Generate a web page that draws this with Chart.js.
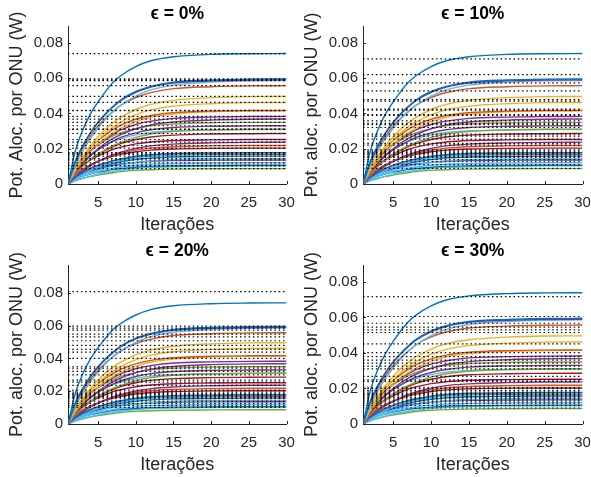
<!DOCTYPE html>
<html>
<head>
<meta charset="utf-8">
<script src="https://cdn.jsdelivr.net/npm/chart.js@4"></script>
<style>
  body { margin: 0; background: #fff; }
  #wrap { position: relative; width: 591px; height: 477px; }
  canvas { position: absolute; }
</style>
</head>
<body>
<div id="wrap">
  <canvas id="c0" width="295" height="238" style="left:0;top:0"></canvas>
  <canvas id="c1" width="296" height="238" style="left:295px;top:0"></canvas>
  <canvas id="c2" width="295" height="239" style="left:0;top:238px"></canvas>
  <canvas id="c3" width="296" height="239" style="left:295px;top:238px"></canvas>
</div>
<script>
const iterations = [1, 2, 3, 4, 5, 6, 7, 8, 10, 12, 15, 20, 25, 30];
const xTicks = [5, 10, 15, 20, 25, 30];
const yTicks = [0, 0.02, 0.04, 0.06, 0.08];

const panelTitles = ["ϵ = 0%", "ϵ = 10%", "ϵ = 20%", "ϵ = 30%"];
const yLabels = ["Pot. Aloc. por ONU (W)", "Pot. aloc. por ONU (W)", "Pot. aloc. por ONU (W)", "Pot. aloc. por ONU (W)"];
const yMax = [0.0895, 0.0895, 0.097, 0.0895];

// MATLAB colours
const B = "#0072BD", O = "#D95319", Y = "#EDB120", P = "#7E2F8E", G = "#77AC30", L = "#4DBEEE", R = "#A2142F";
const curveColors = [B, B, P, L, O, Y, Y, O, Y, P, P, G, P, G, L, R, R, P, O, R, B, L, O, B, L, P, L, B, L, G];

// allocated power per ONU, read at the iterations above
const curves = [
  [0, .0192, .0310, .0399, .0466, .0525, .0576, .0613, .0665, .0698, .0721, .0734, .0738, .0739],
  [0, .0131, .0220, .0292, .0351, .0399, .0440, .0476, .0524, .0553, .0577, .0589, .0594, .0595],
  [0, .0130, .0218, .0289, .0348, .0395, .0437, .0472, .0519, .0549, .0572, .0584, .0589, .0590],
  [0, .0105, .0188, .0258, .0316, .0369, .0410, .0445, .0498, .0533, .0560, .0577, .0584, .0586],
  [0, .0123, .0206, .0273, .0329, .0373, .0412, .0446, .0490, .0518, .0540, .0551, .0556, .0557],
  [0, .0089, .0159, .0218, .0268, .0312, .0347, .0377, .0422, .0451, .0474, .0489, .0495, .0496],
  [0, .0083, .0148, .0203, .0249, .0291, .0323, .0351, .0393, .0420, .0441, .0455, .0461, .0462],
  [0, .0092, .0154, .0204, .0246, .0279, .0309, .0334, .0367, .0388, .0404, .0413, .0416, .0417],
  [0, .0075, .0133, .0183, .0224, .0261, .0291, .0315, .0353, .0378, .0396, .0409, .0414, .0415],
  [0, .0084, .0142, .0188, .0226, .0257, .0283, .0306, .0337, .0356, .0372, .0379, .0382, .0383],
  [0, .0066, .0118, .0162, .0199, .0232, .0258, .0280, .0313, .0335, .0351, .0362, .0367, .0368],
  [0, .0091, .0147, .0188, .0220, .0248, .0272, .0290, .0314, .0330, .0340, .0347, .0349, .0349],
  [0, .0073, .0122, .0162, .0195, .0221, .0244, .0264, .0290, .0307, .0320, .0327, .0329, .0330],
  [0, .0056, .0100, .0137, .0168, .0196, .0218, .0236, .0264, .0283, .0297, .0306, .0310, .0311],
  [0, .0080, .0130, .0167, .0195, .0219, .0241, .0256, .0278, .0292, .0301, .0307, .0309, .0309],
  [0, .0063, .0106, .0140, .0169, .0192, .0212, .0229, .0252, .0266, .0277, .0283, .0285, .0286],
  [0, .0066, .0106, .0136, .0159, .0179, .0197, .0209, .0227, .0238, .0246, .0250, .0252, .0252],
  [0, .0043, .0076, .0104, .0128, .0149, .0166, .0180, .0201, .0216, .0226, .0233, .0236, .0237],
  [0, .0048, .0081, .0107, .0129, .0146, .0161, .0174, .0192, .0203, .0211, .0216, .0218, .0218],
  [0, .0053, .0085, .0110, .0128, .0144, .0158, .0168, .0183, .0192, .0198, .0202, .0203, .0203],
  [0, .0039, .0066, .0087, .0105, .0119, .0132, .0142, .0157, .0166, .0173, .0176, .0178, .0178],
  [0, .0032, .0056, .0077, .0095, .0110, .0123, .0133, .0149, .0159, .0167, .0172, .0174, .0175],
  [0, .0044, .0071, .0091, .0106, .0119, .0131, .0139, .0151, .0159, .0164, .0167, .0168, .0168],
  [0, .0035, .0058, .0077, .0093, .0106, .0117, .0126, .0139, .0147, .0153, .0156, .0158, .0158],
  [0, .0026, .0046, .0063, .0078, .0091, .0101, .0109, .0122, .0131, .0138, .0142, .0144, .0144],
  [0, .0035, .0057, .0073, .0086, .0097, .0106, .0113, .0122, .0129, .0133, .0135, .0136, .0136],
  [0, .0026, .0044, .0059, .0071, .0080, .0089, .0096, .0106, .0112, .0116, .0119, .0120, .0120],
  [0, .0028, .0045, .0057, .0067, .0075, .0083, .0088, .0095, .0100, .0103, .0105, .0106, .0106],
  [0, .0019, .0033, .0045, .0056, .0065, .0072, .0078, .0088, .0094, .0098, .0101, .0103, .0103],
  [0, .0019, .0032, .0043, .0051, .0058, .0064, .0070, .0077, .0081, .0084, .0086, .0087, .0087]
];

// target levels (dotted lines) for each epsilon
const targets0 = [.0739, .0595, .0590, .0586, .0557, .0496, .0462, .0417, .0415, .0383, .0368, .0349, .0330, .0311, .0309,
  .0286, .0252, .0237, .0218, .0203, .0178, .0175, .0168, .0158, .0144, .0136, .0120, .0106, .0103, .0087];
const targets10 = [.0709, .0620, .0573, .0528, .0478, .0470, .0424, .0418, .0393, .0388, .0358, .0343, .0336, .0320, .0282,
  .0271, .0254, .0230, .0220, .0193, .0186, .0179, .0172, .0165, .0157, .0150, .0138, .0126, .0110, .0089];
const targets20 = [.0808, .0597, .0585, .0573, .0548, .0532, .0508, .0480, .0455, .0439, .0400, .0349, .0337, .0321, .0300,
  .0268, .0256, .0236, .0207, .0195, .0185, .0179, .0172, .0166, .0160, .0154, .0140, .0126, .0114, .0102];
const targets30 = [.0717, .0605, .0567, .0545, .0530, .0515, .0451, .0402, .0379, .0360, .0343, .0326, .0310, .0268, .0248,
  .0240, .0207, .0199, .0188, .0180, .0172, .0165, .0158, .0150, .0142, .0135, .0128, .0118, .0105, .0090];
const targetSets = [targets0, targets10, targets20, targets30];

const FONT = "'Liberation Sans', Arial, sans-serif";
const INK = "#262626";

// MATLAB style inward tick marks
const innerTicks = {
  id: "innerTicks",
  afterDraw(chart) {
    const ctx = chart.ctx;
    const x = chart.scales.x, y = chart.scales.y;
    const a = chart.chartArea;
    ctx.save();
    ctx.strokeStyle = INK;
    ctx.lineWidth = 1;
    ctx.beginPath();
    xTicks.forEach(v => {
      const px = Math.round(x.getPixelForValue(v)) + 0.5;
      ctx.moveTo(px, a.bottom);
      ctx.lineTo(px, a.bottom - 3);
    });
    yTicks.forEach(v => {
      const py = Math.round(y.getPixelForValue(v)) + 0.5;
      ctx.moveTo(a.left, py);
      ctx.lineTo(a.left + 3, py);
    });
    ctx.stroke();
    ctx.restore();
  }
};

function makeChart(i) {
  const top = i < 2;
  const canvasH = top ? 238 : 239;
  const areaTop = top ? 26 : 27;
  const areaBottom = top ? 184 : 186;

  const datasets = [];
  targetSets[i].forEach(v => {
    datasets.push({
      data: [{ x: 1, y: v }, { x: 30, y: v }],
      borderColor: "#000",
      borderWidth: 1.2,
      borderDash: [1.5, 2.8],
      pointRadius: 0,
      order: 0
    });
  });
  curves.forEach((c, k) => {
    datasets.push({
      data: iterations.map((it, j) => ({ x: it, y: c[j] })),
      borderColor: curveColors[k],
      borderWidth: 1.4,
      pointRadius: 0,
      cubicInterpolationMode: "monotone",
      order: 1
    });
  });

  new Chart(document.getElementById("c" + i), {
    type: "line",
    data: { datasets },
    plugins: [innerTicks],
    options: {
      responsive: false,
      animation: false,
      devicePixelRatio: 1,
      layout: { padding: { left: 0, right: 0, top: 0, bottom: 0 } },
      plugins: {
        legend: { display: false },
        tooltip: { enabled: false },
        title: {
          display: true,
          text: panelTitles[i],
          fullSize: false,
          color: "#000",
          font: { family: FONT, size: 17.5, weight: "bold" },
          padding: top ? { top: 3.5, bottom: areaTop - 3.5 - 21 } : { top: 2.5, bottom: areaTop - 2.5 - 21 }
        }
      },
      scales: {
        x: {
          type: "linear",
          min: 1,
          max: 30,
          afterBuildTicks: s => { s.ticks = xTicks.map(v => ({ value: v })); },
          afterFit: s => {
            s.height = canvasH - areaBottom;
            s.paddingLeft = 0;
            s.paddingRight = 8.5;
          },
          grid: { display: false, drawTicks: false },
          border: { display: true, color: INK, width: 1 },
          ticks: { color: INK, font: { family: FONT, size: 15 }, padding: 10, maxRotation: 0 },
          title: {
            display: true,
            text: "Iterações",
            color: INK,
            font: { family: FONT, size: 18 },
            padding: { top: 0, bottom: top ? 1.7 : 0.8 }
          }
        },
        y: {
          min: 0,
          max: yMax[i],
          afterBuildTicks: s => { s.ticks = yTicks.map(v => ({ value: v })); },
          afterFit: s => { s.width = 68; },
          grid: { display: false, drawTicks: false },
          border: { display: true, color: INK, width: 1 },
          ticks: {
            color: INK,
            font: { family: FONT, size: 15 },
            padding: 5,
            callback: v => (v === 0 ? "0" : v.toFixed(2))
          },
          title: {
            display: true,
            text: yLabels[i],
            color: INK,
            font: { family: FONT, size: 18 },
            padding: { top: 6, bottom: 0 }
          }
        }
      }
    }
  });
}

for (let i = 0; i < 4; i++) makeChart(i);
</script>
</body>
</html>
